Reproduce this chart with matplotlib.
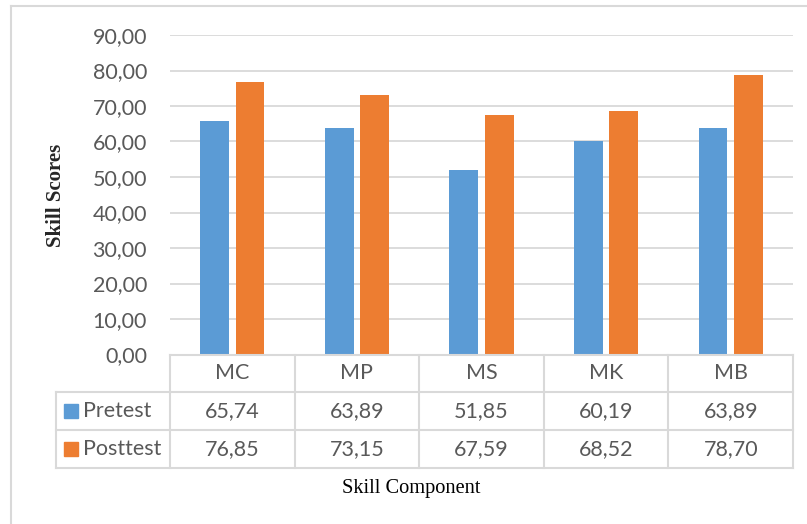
import matplotlib
matplotlib.use("Agg")
import matplotlib.pyplot as plt
from matplotlib.patches import Rectangle
from matplotlib.lines import Line2D

categories = ["MC", "MP", "MS", "MK", "MB"]
series_names = ["Pretest", "Posttest"]
pretest = [65.74, 63.89, 51.85, 60.19, 63.89]
posttest = [76.85, 73.15, 67.59, 68.52, 78.70]
yticks = [0, 10, 20, 30, 40, 50, 60, 70, 80, 90]
colors = ["#5B9BD5", "#ED7D31"]
text_color = "#595959"
grid_color = "#D9D9D9"
fs = 15.5

W, H = 807, 524
fig = plt.figure(figsize=(W / 100, H / 100), dpi=100)

# plot area in pixel coordinates
x0, x1 = 170, 793
y_top, y_zero = 35, 354.5
ax = fig.add_axes([x0 / W, (H - y_zero) / H, (x1 - x0) / W, (y_zero - y_top) / H])

def fx(px):
    return px / W

def fy(py):
    return (H - py) / H

n = len(categories)
xs = list(range(n))
width = 0.23
off = 0.142
ax.bar([x - off for x in xs], pretest, width, color=colors[0], zorder=3)
ax.bar([x + off for x in xs], posttest, width, color=colors[1], zorder=3)

ax.set_xlim(-0.5, n - 0.5)
ax.set_ylim(0, 90)
ax.set_yticks(yticks)
ax.set_yticklabels([f"{v:.2f}".replace(".", ",") for v in yticks],
                   fontsize=fs, color=text_color, family="Lato")
ax.tick_params(axis="y", length=0, pad=16.5)
ax.set_xticks([])
for s in ax.spines.values():
    s.set_visible(False)
for v in yticks[1:]:
    ax.axhline(v, color=grid_color, lw=1.3, zorder=1)

# data table under the plot
row_lines = [354.5, 392, 430, 468]
col_edges = [x0 + i * (x1 - x0) / n for i in range(n + 1)]
lw = 1.5
lines = []
lines.append(((x0, x1), (row_lines[0], row_lines[0])))
for yl in row_lines[1:]:
    lines.append(((56, x1), (yl, yl)))
lines.append(((56, 56), (row_lines[1], row_lines[3])))
for xe in col_edges:
    lines.append(((xe, xe), (row_lines[0], row_lines[3])))
for (xa, xb), (ya, yb) in lines:
    fig.add_artist(Line2D([fx(xa), fx(xb)], [fy(ya), fy(yb)], color=grid_color, lw=lw))

row_centers = [(row_lines[i] + row_lines[i + 1]) / 2 for i in range(3)]
for i, cat in enumerate(categories):
    cx = (col_edges[i] + col_edges[i + 1]) / 2
    fig.text(fx(cx), fy(row_centers[0]), cat, ha="center", va="center",
             fontsize=fs, color=text_color, family="Lato")
    for r, vals in enumerate([pretest, posttest]):
        fig.text(fx(cx), fy(row_centers[r + 1]), f"{vals[i]:.2f}".replace(".", ","),
                 ha="center", va="center", fontsize=fs, color=text_color, family="Lato")

for r, name in enumerate(series_names):
    yc = row_centers[r + 1]
    fig.add_artist(Rectangle((fx(64), fy(yc + 7)), 14 / W, 14 / H, color=colors[r],
                             transform=fig.transFigure))
    fig.text(fx(83), fy(yc), name, ha="left", va="center",
             fontsize=fs, color=text_color, family="Lato")

# axis titles
fig.text(fx(56), fy(195), "Skill Scores", rotation=90, ha="center", va="center",
         fontsize=15, fontweight="bold", family="Liberation Serif", color="#262626")
fig.text(fx(411.5), fy(489), "Skill Component", ha="center", va="center",
         fontsize=14.7, family="Liberation Serif", color="black")

# chart frame
fig.add_artist(Line2D([fx(11), fx(11)], [fy(6), fy(524)], color=grid_color, lw=1.5))
fig.add_artist(Line2D([fx(11), fx(807)], [fy(6), fy(6)], color=grid_color, lw=1.5))

fig.savefig("out.png", dpi=100)
